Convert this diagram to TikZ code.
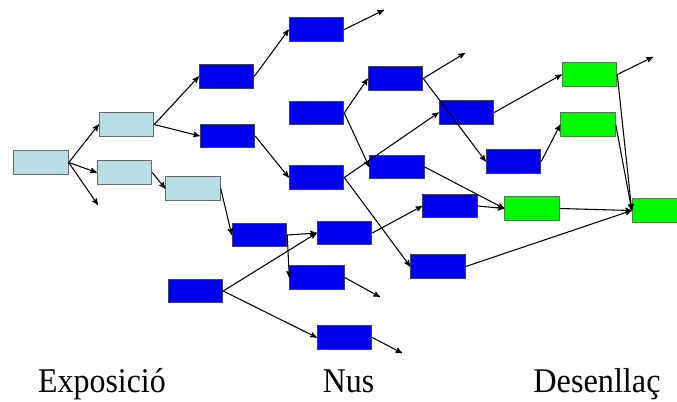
\documentclass[tikz,border=0pt]{standalone}
\usepackage{fontspec}
\setmainfont{Liberation Serif}
\usepackage{tikz}
\usetikzlibrary{arrows}
\definecolor{node_gray}{RGB}{100,105,110}
\definecolor{node_light}{RGB}{183,222,228}
\definecolor{node_blue}{RGB}{0,0,240}
\definecolor{edge_blue}{RGB}{60,60,110}
\definecolor{node_green}{RGB}{0,250,0}
\definecolor{edge_green}{RGB}{70,130,70}

\begin{document}
\begin{tikzpicture}[->,thick,>=stealth',x=0.75pt,y=-0.75pt]
    \tikzstyle{label}=[text=black, anchor=base, font=\fontsize{26}{30}\selectfont]
    \tikzstyle{event}=[draw=node_gray, semithick, rectangle, minimum width=41pt, minimum height=17.5pt, inner sep=0pt, fill=none]
    \tikzstyle{eventexp}=[style=event,fill=node_light,draw=node_gray]
    \tikzstyle{eventnus}=[style=event,fill=node_blue,draw=edge_blue]
    \tikzstyle{eventdes}=[style=event,fill=node_green,draw=edge_green]

    \useasboundingbox (0,0) rectangle (677,401);
    \clip (0,0) rectangle (677,401);

    \node[eventexp] (E1) at (41  ,162.5)  {};
    \node[eventexp] (E2) at (126.5,124.5) {};
    \node[eventexp] (E3) at (124.5,172.5) {};
    \node[eventexp] (E4) at (193 ,188.5)  {};

    \node[eventnus] (N1)  at (226.5, 76.5) {};
    \node[eventnus] (N2)  at (227.5,136  ) {};
    \node[eventnus] (N3)  at (316.5, 29.5) {};
    \node[eventnus] (N4)  at (316.5,113  ) {};
    \node[eventnus] (N5)  at (316.5,177.5) {};
    \node[eventnus] (N6)  at (395.5, 78.5) {};
    \node[eventnus] (N7)  at (466.5,112.5) {};
    \node[eventnus] (N8)  at (513.5,161.5) {};
    \node[eventnus] (N9)  at (397  ,167  ) {};
    \node[eventnus] (N10) at (450  ,206  ) {};
    \node[eventnus] (N11) at (438  ,266.5) {};
    \node[eventnus] (N12) at (259.5,235  ) {};
    \node[eventnus] (N13) at (344.5,233  ) {};
    \node[eventnus] (N14) at (317  ,277.5) {};
    \node[eventnus] (N15) at (195.5,291  ) {};
    \node[eventnus] (N16) at (344.5,337.5) {};

    \node[eventdes] (D1) at (589.5, 74.5) {};
    \node[eventdes] (D2) at (588  ,124.5) {};
    \node[eventdes] (D3) at (532  ,208.5) {};
    \node[eventdes] (D4) at (659.5,210.5) {};

    \coordinate (e1)  at (98 ,205);
    \coordinate (n3)  at (384, 10);
    \coordinate (n6)  at (465, 53);
    \coordinate (n14) at (380,297);
    \coordinate (n16) at (402,353);
    \coordinate (d1)  at (653, 57);

    \node[label] (exp) at (102  ,392) {\scalebox{0.92}[1]{Exposició}};
    \node[label] (nus) at (348.5,392) {\scalebox{0.92}[1]{Nus}};
    \node[label] (des) at (597  ,392) {\scalebox{0.93}[1]{Desenllaç}};

    \path
     (E1.east) edge (E2.west)
     (E1.east) edge (E3.west)
     (E1.east) edge (e1)
     (E2.east) edge (N1.west)
     (E2.east) edge (N2.west)
     (E3.east) edge (E4.west)
     (E4.east) edge (N12.west)
     (N1.east) edge (N3.west)
     (N2.east) edge (N5.west)
     (N3.east) edge (n3)
     (N4.east) edge (N6.west)
     (N4.east) edge (N9.west)
     (N5.east) edge (N7.west)
     (N5.east) edge (N11.west)
     (N6.east) edge (n6)
     (N6.east) edge (N8.west)
     (N7.east) edge (D1.west)
     (N8.east) edge (D2.west)
     (N9.east) edge (D3.west)
     (N10.east) edge (D3.west)
     (N11.east) edge (D4.west)
     (N12.east) edge (N13.west)
     (N12.east) edge (N14.west)
     (N13.east) edge (N10.west)
     (N14.east) edge (n14)
     (N15.east) edge (N13.west)
     (N15.east) edge (N16.west)
     (N16.east) edge (n16)
     (D1.east) edge (d1)
     (D1.east) edge (D4.west)
     (D2.east) edge (D4.west)
     (D3.east) edge (D4.west);
  \end{tikzpicture}
\end{document}
